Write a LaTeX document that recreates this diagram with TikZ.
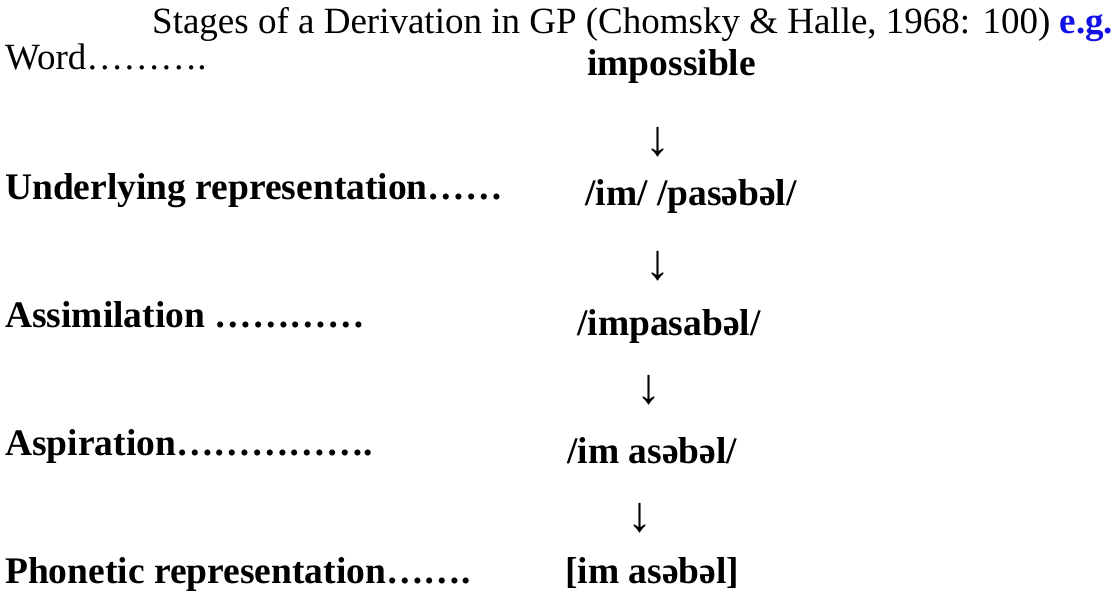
\documentclass[tikz,border=0pt]{standalone}
\usepackage{fontspec}
\setmainfont{Liberation Serif}
\definecolor{egblue}{RGB}{18,18,230}
\tikzset{
	plain/.style={anchor=base west, inner sep=0pt, font=\fontsize{37}{42}\selectfont},
	stage/.style={plain, font=\fontsize{37.5}{42}\selectfont\bfseries},
	downarrow/.style={anchor=center, inner sep=0pt, font=\fontsize{50}{56}\selectfont}
}

\begin{document}
\begin{tikzpicture}[x=1pt, y=-1pt]
			%%%%% START %%%%%
			\useasboundingbox (0, 0) rectangle (1117, 597);
			
			\node[plain] (title) at (152, 34) {Stages of a Derivation in GP (Chomsky \& Halle, 1968: 100) \textcolor{egblue}{\bfseries e.g.}};
			
			\node[plain] (word) at (5, 69) {Word……….};
			\node[stage] (impossible) at (587, 75) {impossible};
			\node[downarrow] (a1) at (658, 142) {↓};
			
			\node[stage] (ur) at (5, 199) {Underlying representation……};
			\node[stage] (urform) at (585, 205) {/im/ /pasəbəl/};
			\node[downarrow] (a2) at (658, 266) {↓};
			
			\node[stage] (assim) at (5, 327) {Assimilation …………};
			\node[stage] (assimform) at (577, 335) {/impasabəl/};
			\node[downarrow] (a3) at (649, 390) {↓};
			
			\node[stage] (asp) at (5, 455) {Aspiration…………….};
			\node[stage] (aspform) at (567, 463) {/im asəbəl/};
			\node[downarrow] (a4) at (640, 518) {↓};
			
			\node[stage] (phon) at (5, 583) {Phonetic representation…….};
			\node[stage] (phonform) at (565, 583) {[im asəbəl]};
			%%%%% END %%%%%
\end{tikzpicture}
\end{document}
